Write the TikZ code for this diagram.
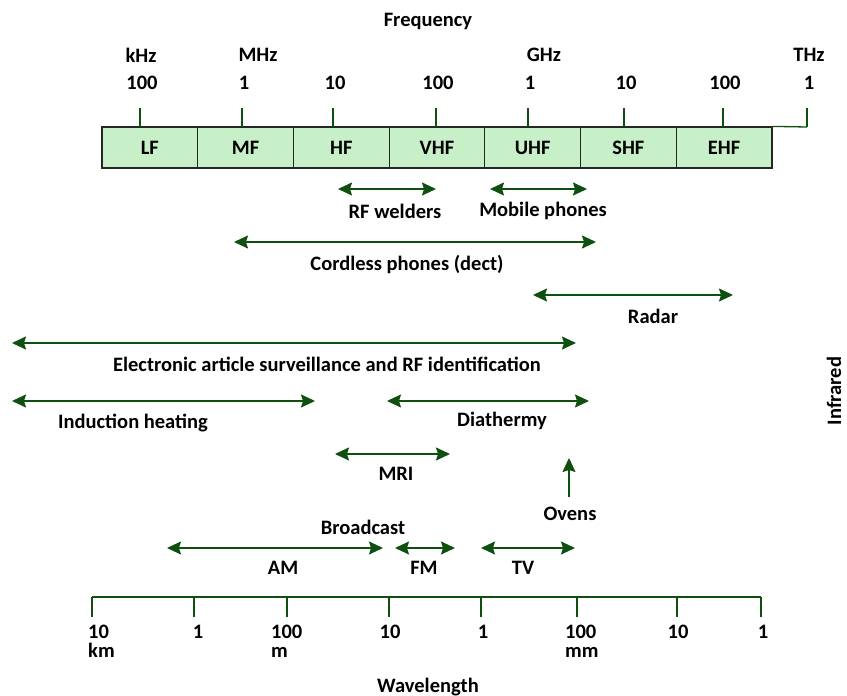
\documentclass[tikz,border=0pt]{standalone}
\usepackage{fontspec}
\setmainfont{Carlito}
\usepackage{tikz}
\usetikzlibrary{arrows.meta,positioning}
\definecolor{bandgreen}{HTML}{C8F0C8}
\definecolor{darkgreen}{HTML}{0F4F0F}

\begin{document}
\begin{tikzpicture}[
  x=1pt, y=-1pt,
  font=\fontsize{20.5}{23}\selectfont\bfseries,
  band/.style={
    draw=black!85,
    line width=1.2pt,
    fill=bandgreen,
    minimum width=95.7pt,
    minimum height=41pt,
    inner sep=0pt
  },
  scaletick/.style={draw=darkgreen, line width=1.3pt},
  spanarrow/.style={darkgreen, line width=1.6pt,
    {Stealth[length=14pt,width=13pt,inset=2pt]}-{Stealth[length=14pt,width=13pt,inset=2pt]}},
  onearrow/.style={darkgreen, line width=1.6pt,
    -{Stealth[length=14pt,width=13pt,inset=2pt]}},
  lbl/.style={inner sep=0pt}
]
\useasboundingbox (0,0) rectangle (847,696);

% frequency scale
\node[lbl] (freq) at (428,21) {Frequency};
\foreach \name [count=\i from 0] in {LF,MF,HF,VHF,UHF,SHF,EHF}
  \node[band] (\name) at (102+47.85+\i*95.7,147.5) {\name};
\coordinate (thzend) at (807,127);
\draw[scaletick] (EHF.north east) -- (thzend);
\foreach \x/\num [count=\i] in {140/100,242/1,333/10,436/100,528/1,624/10,723/100,807/1} {
  \draw[scaletick] (\x,127) -- (\x,108);
  \node[lbl] (fnum\i) at (\x+2,83) {\num};
}
\node[lbl] (khz) at (141,55) {kHz};
\node[lbl] (mhz) at (258,55) {MHz};
\node[lbl] (ghz) at (544,55) {GHz};
\node[lbl] (thz) at (809,55) {THz};

% applications
\coordinate (rfwA) at (338,189);  \coordinate (rfwB) at (436,189);
\coordinate (mobA) at (490,189);  \coordinate (mobB) at (587,189);
\coordinate (cordA) at (234,242); \coordinate (cordB) at (596,242);
\coordinate (radA) at (533,295);  \coordinate (radB) at (733,295);
\coordinate (easA) at (12,343);   \coordinate (easB) at (576,343);
\coordinate (indA) at (12,401);   \coordinate (indB) at (315,401);
\coordinate (diaA) at (387,401);  \coordinate (diaB) at (589,401);
\coordinate (mriA) at (335,454);  \coordinate (mriB) at (450,454);
\coordinate (ovenA) at (569,497); \coordinate (ovenB) at (569,458);
\coordinate (amA) at (167,548);   \coordinate (amB) at (383,548);
\coordinate (fmA) at (395,548);   \coordinate (fmB) at (455,548);
\coordinate (tvA) at (481,548);   \coordinate (tvB) at (575,548);

\draw[spanarrow] (rfwA) -- (rfwB);
\draw[spanarrow] (mobA) -- (mobB);
\draw[spanarrow] (cordA) -- (cordB);
\draw[spanarrow] (radA) -- (radB);
\draw[spanarrow] (easA) -- (easB);
\draw[spanarrow] (indA) -- (indB);
\draw[spanarrow] (diaA) -- (diaB);
\draw[spanarrow] (mriA) -- (mriB);
\draw[onearrow] (ovenA) -- (ovenB);
\draw[spanarrow] (amA) -- (amB);
\draw[spanarrow] (fmA) -- (fmB);
\draw[spanarrow] (tvA) -- (tvB);

\node[lbl] (rfw) at (395,211) {RF welders};
\node[lbl] (mob) at (543,211) {Mobile phones};
\node[lbl] (cord) at (407,265) {Cordless phones (dect)};
\node[lbl] (radar) at (653,316) {Radar};
\node[lbl] (eas) at (327,364) {Electronic article surveillance and RF identification};
\node[lbl] (ind) at (133,423) {Induction heating};
\node[lbl] (dia) at (502,421) {Diathermy};
\node[lbl] (mri) at (396,474) {MRI};
\node[lbl] (oven) at (570,514) {Ovens};
\node[lbl] (bcast) at (363,527) {Broadcast};
\node[lbl] (am) at (283,568) {AM};
\node[lbl] (fm) at (424,568) {FM};
\node[lbl] (tv) at (523,568) {TV};
\node[lbl, rotate=90] (ir) at (834,391) {Infrared};

% wavelength scale
\coordinate (wlA) at (92,597);
\coordinate (wlB) at (761,597);
\draw[scaletick] (wlA) -- (wlB);
\foreach \x in {92,194,287,389,481,577,677,761}
  \draw[scaletick] (\x,597) -- (\x,617);
\node[lbl, align=left, anchor=north west] (w1) at (88,625) {10\\[-4pt]km};
\node[lbl, anchor=north] (w2) at (198,625) {1};
\node[lbl, align=left, anchor=north west] (w3) at (271,625) {100\\[-4pt]m};
\node[lbl, anchor=north] (w4) at (390,625) {10};
\node[lbl, anchor=north] (w5) at (483,625) {1};
\node[lbl, align=left, anchor=north west] (w6) at (565,625) {100\\[-4pt]mm};
\node[lbl, anchor=north] (w7) at (678,625) {10};
\node[lbl, anchor=north] (w8) at (763,625) {1};
\node[lbl] (wl) at (428,687) {Wavelength};
\end{tikzpicture}
\end{document}
